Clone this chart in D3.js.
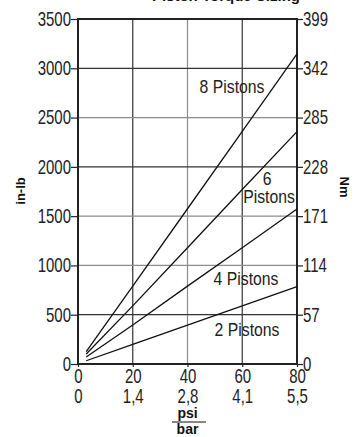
<!DOCTYPE html>
<html>
<head>
<meta charset="utf-8">
<script src="https://cdn.jsdelivr.net/npm/d3@7"></script>
<style>
  body { margin: 0; background: #fff; }
  svg { display: block; }
  .tick text { font-family: "Liberation Sans", Arial, sans-serif; font-size: 20px; fill: #222; }
  .lbl { font-family: "Liberation Sans", Arial, sans-serif; font-size: 19px; fill: #222; }
  .bold { font-family: "Liberation Sans", Arial, sans-serif; font-weight: bold; fill: #111; }
</style>
</head>
<body>
<svg id="chart" width="357" height="437"></svg>
<script>
// data
var psi = [3, 20, 40, 60, 80];
var pistons2 = [33, 200, 395, 590, 784];
var pistons4 = [71, 395, 790, 1180, 1572];
var pistons6 = [101, 590, 1180, 1770, 2357];
var pistons8 = [125, 790, 1575, 2360, 3145];

var inlbTicks = [0, 500, 1000, 1500, 2000, 2500, 3000, 3500];
var nmLabels = ["0", "57", "114", "171", "228", "285", "342", "399"];
var psiTicks = [0, 20, 40, 60, 80];
var barLabels = ["0", "1,4", "2,8", "4,1", "5,5"];

// the print uses a condensed face; squeeze Liberation Sans to match
var squeeze = 0.75;

var svg = d3.select("#chart");

var x = d3.scaleLinear().domain([0, 80]).range([78, 297]);
var y = d3.scaleLinear().domain([0, 3500]).range([364, 19]);

// grid - some lines print lighter than others
function gridColor(v) {
   return (v == 40 || v == 1000 || v == 1500 || v == 2500) ? "#8c8c8c" : "#333";
}

svg.append("g")
   .selectAll("line")
   .data(psiTicks.slice(1, -1))
   .enter().append("line")
      .attr("x1", d => x(d)).attr("x2", d => x(d))
      .attr("y1", y(0)).attr("y2", y(3500))
      .style("stroke", gridColor)
      .style("stroke-width", 1.2);

svg.append("g")
   .selectAll("line")
   .data(inlbTicks.slice(1, -1))
   .enter().append("line")
      .attr("x1", x(0)).attr("x2", x(80))
      .attr("y1", d => y(d)).attr("y2", d => y(d))
      .style("stroke", gridColor)
      .style("stroke-width", 1.2);

// axes
var left = svg.append("g")
   .attr("transform", "translate(" + x(0) + ",0)")
   .call(d3.axisLeft(y).tickValues(inlbTicks).tickSize(7).tickPadding(0).tickFormat(d3.format("d")));

var right = svg.append("g")
   .attr("transform", "translate(" + x(80) + ",0)")
   .call(d3.axisRight(y).tickValues(inlbTicks).tickSize(6).tickPadding(0)
      .tickFormat((d, i) => nmLabels[i]));

var bottom = svg.append("g")
   .attr("transform", "translate(0," + y(0) + ")")
   .call(d3.axisBottom(x).tickValues(psiTicks).tickSize(3).tickPadding(0));

var bottom2 = svg.append("g")
   .attr("transform", "translate(0," + y(0) + ")")
   .call(d3.axisBottom(x).tickValues(psiTicks).tickSize(0).tickPadding(0)
      .tickFormat((d, i) => barLabels[i]));

[left, right, bottom, bottom2].forEach(function(g) {
   g.select(".domain").remove();
   g.selectAll(".tick line").style("stroke", "#222").style("stroke-width", 1.2);
});
left.selectAll(".tick text")
   .attr("x", -7 / squeeze)
   .attr("transform", "scale(" + squeeze + ",1)");
right.selectAll(".tick text")
   .attr("x", 6 / squeeze)
   .attr("transform", "scale(" + squeeze + ",1)");
bottom.selectAll(".tick text")
   .attr("y", 19).attr("dy", 0)
   .attr("transform", "scale(" + squeeze + ",1)");
bottom2.selectAll(".tick text")
   .attr("y", 39).attr("dy", 0)
   .attr("transform", "scale(" + squeeze + ",1)");

// frame
svg.append("rect")
   .attr("x", x(0)).attr("y", y(3500))
   .attr("width", x(80) - x(0)).attr("height", y(0) - y(3500))
   .style("fill", "none")
   .style("stroke", "#222")
   .style("stroke-width", 2);

// piston curves
var series = [pistons2, pistons4, pistons6, pistons8];
var line = d3.line()
   .x((d, i) => x(psi[i]))
   .y(d => y(d));

svg.append("g")
   .selectAll("path")
   .data(series)
   .enter().append("path")
      .attr("d", line)
      .style("fill", "none")
      .style("stroke", "#111")
      .style("stroke-width", 1.3);

// curve labels
var labels = [
   {t: "8 Pistons", x: 232, y: 93},
   {t: "6", x: 267, y: 185},
   {t: "Pistons", x: 269, y: 203},
   {t: "4 Pistons", x: 246, y: 285},
   {t: "2 Pistons", x: 247, y: 336}
];
svg.append("g")
   .selectAll("text")
   .data(labels)
   .enter().append("text")
      .attr("class", "lbl")
      .attr("transform", d => "translate(" + d.x + "," + d.y + ") scale(0.83,1)")
      .attr("text-anchor", "middle")
      .text(d => d.t);

// axis titles
svg.append("text")
   .attr("class", "bold")
   .attr("transform", "translate(25,191) rotate(-90)")
   .attr("text-anchor", "middle")
   .style("font-size", "13px")
   .text("in-lb");

svg.append("text")
   .attr("class", "bold")
   .attr("transform", "translate(340,187) rotate(90)")
   .attr("text-anchor", "middle")
   .style("font-size", "13px")
   .text("Nm");

svg.append("text")
   .attr("class", "bold")
   .attr("x", x(40)).attr("y", 418)
   .attr("text-anchor", "middle")
   .style("font-size", "14px")
   .text("psi");
svg.append("line")
   .attr("x1", 172).attr("x2", 206)
   .attr("y1", 422).attr("y2", 422)
   .style("stroke", "#111").style("stroke-width", 1.2);
svg.append("text")
   .attr("class", "bold")
   .attr("x", x(40)).attr("y", 434)
   .attr("text-anchor", "middle")
   .style("font-size", "14px")
   .text("bar");

// title, cut off at the top of the picture
svg.append("text")
   .attr("class", "bold")
   .attr("x", 300).attr("y", 1)
   .attr("text-anchor", "end")
   .style("font-size", "15px")
   .text("Piston Torque Sizing");
</script>
</body>
</html>
